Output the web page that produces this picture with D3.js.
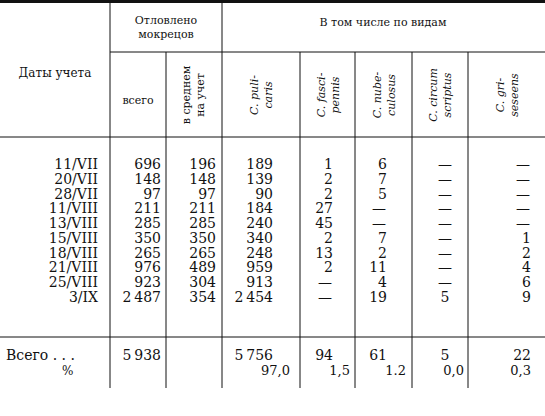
<!DOCTYPE html>
<html><head><meta charset="utf-8">
<script src="https://cdn.jsdelivr.net/npm/d3@7"></script>
<style>body{margin:0;background:#fff}</style>
</head><body><div id="t"></div>
<script>
// data
const dates = ["11/VII","20/VII","28/VII","11/VIII","13/VIII","15/VIII","18/VIII","21/VIII","25/VIII","3/IX"];
const total = [696,148,97,211,285,350,265,976,923,2487];
const perCount = [196,148,97,211,285,350,265,489,304,354];
const pulicaris = [189,139,90,184,240,340,248,959,913,2454];
const fascipennis = [1,2,2,27,45,2,13,2,null,null];
const nubeculosus = [6,7,5,null,null,7,2,11,4,19];
const circumscriptus = [null,null,null,null,null,null,null,null,null,5];
const griseseens = [null,null,null,null,null,1,2,4,6,9];
const sumRow = [5938,null,5756,94,61,5,22];
const pctRow = ["","","97,0","1,5","1.2","0,0","0,3"];
const speciesNames = [["C. puli-","caris"],["C. fasci-","pennis"],["C. nube-","culosus"],["C. circum","scriptus"],["C. gri-","seseens"]];

const width = 545, height = 416;
const svg = d3.select("#t").append("svg").attr("width", width).attr("height", height)
  .attr("font-family", "'DejaVu Serif', 'Liberation Serif', serif").attr("fill", "#111");

// column edges and anchors
const edges = [0,110,166,222,300,355,412,468,545];
const anchors = [[161,"end"],[216,"end"],[273,"end"],[333,"end"],[387,"end"],[445,"middle"],[531,"end"]];
const cols = [total, perCount, pulicaris, fascipennis, nubeculosus, circumscriptus, griseseens];

const y = d3.scalePoint().domain(dates).range([164, 297]);
const fmt = v => v == null ? "—" : (v >= 1000 ? String(v).replace(/(\d)(\d{3})$/, "$1\u2009$2") : String(v));

const line = (x1,y1,x2,y2,w) => svg.append("line").attr("x1",x1).attr("y1",y1).attr("x2",x2).attr("y2",y2)
  .attr("stroke","#111").attr("stroke-width",w||1);

line(0,1.5,545,1.5,3);
line(110,52,545,52);
line(0,137,545,137);
line(0,337,545,337);
edges.slice(1,-1).forEach((x,i) => line(x, (i===0||i===2) ? 2 : 52, x, 388));

// headers
const hdr = (x,yy,s,opts={}) => svg.append("text").attr("x",x).attr("y",yy).attr("text-anchor",opts.a||"middle")
  .attr("font-size",opts.fs||11).attr("font-style",opts.it?"italic":null).attr("transform",opts.tr||null).text(s);
hdr(55,77,"Даты учета",{fs:12});
hdr(166,24,"Отловлено");
hdr(166,38,"мокрецов");
hdr(383,26,"В том числе по видам");
hdr(138,104,"всего");
hdr(0,0,"в среднем",{tr:"translate(190,95) rotate(-90)"});
hdr(0,0,"на учет",{tr:"translate(204,95) rotate(-90)"});
speciesNames.forEach((n,i) => {
  const cx = (edges[i+3]+edges[i+4])/2;
  hdr(0,0,n[0],{it:true,tr:`translate(${cx-3},95) rotate(-90)`});
  hdr(0,0,n[1],{it:true,tr:`translate(${cx+11},95) rotate(-90)`});
});

// body
const g = svg.append("g");
g.selectAll(".d").data(dates).enter().append("text").attr("x",98).attr("y",d=>y(d)+5)
  .attr("text-anchor","end").attr("font-size",14).text(d=>d);
cols.forEach((c,i) => {
  g.selectAll(".c"+i).data(c).enter().append("text")
    .attr("x",anchors[i][0]).attr("y",(d,j)=>y(dates[j])+5).attr("font-size",14)
    .attr("text-anchor", d => d == null ? "middle" : anchors[i][1])
    .attr("dx", d => d == null && anchors[i][1]==="end" ? -8 : 0)
    .text(fmt);
});
svg.append("text").attr("x",6).attr("y",360).attr("font-size",14).text("Всего . . .");
svg.append("text").attr("x",62).attr("y",375).attr("font-size",12).text("%");
sumRow.forEach((v,i) => { if (v != null) svg.append("text").attr("x",anchors[i][0]).attr("y",360)
  .attr("text-anchor",anchors[i][1]).attr("font-size",14).text(fmt(v)); });
const pctX = [0,0,290,350,406,464,531];
pctRow.forEach((v,i) => { if (v) svg.append("text").attr("x",pctX[i]).attr("y",375)
  .attr("text-anchor","end").attr("font-size",13).text(v); });
</script></body></html>
